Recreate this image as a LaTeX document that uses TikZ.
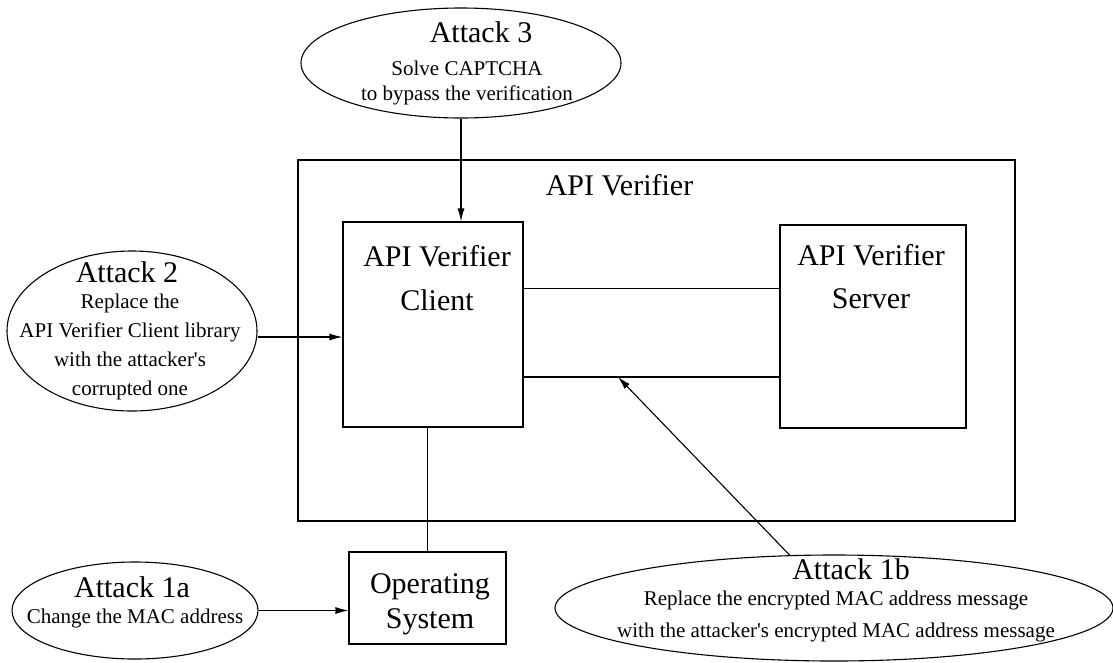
\documentclass[tikz,border=0pt]{standalone}
\usepackage{fontspec}
\setmainfont{Liberation Serif}
\usetikzlibrary{shapes.geometric,arrows.meta,positioning,calc}
\tikzset{
	box/.style={rectangle,draw,inner sep=0pt},
	attack/.style={ellipse,draw,inner sep=0pt},
	bigtext/.style={font=\fontsize{30}{36}\selectfont,inner sep=0pt,anchor=base},
	smalltext/.style={font=\fontsize{21}{29}\selectfont,inner sep=0pt,align=center,anchor=base}
}

\begin{document}
\begin{tikzpicture}[x=1pt,y=-1pt,line width=1.1pt,>={Latex[length=13pt,width=7pt]}]
\useasboundingbox (0,0) rectangle (1113,662);
% boxes
\node[box,minimum width=717pt,minimum height=361pt] (verifier) at (656.5,340.5) {};
\node[box,minimum width=180pt,minimum height=205pt] (client) at (433,324.5) {};
\node[box,minimum width=186pt,minimum height=203pt] (server) at (873,326.5) {};
\node[box,minimum width=157pt,minimum height=92pt] (os) at (427.5,598) {};
\node[bigtext] (verifierlabel) at (619.5,195) {API Verifier};
% multi-line nodes sit on their last baseline
\node[bigtext,align=center] (clientname) at (437,310) {API Verifier\\[8pt]Client};
\node[bigtext,align=center] (servername) at (871,308) {API Verifier\\[7pt]Server};
\node[bigtext,align=center] (osname) at (430,628) {Operating\\[-1pt]System};
% attacks
\node[attack,minimum width=320pt,minimum height=110pt] (atk3) at (461,63) {};
\node[attack,minimum width=250pt,minimum height=160pt] (atk2) at (132,331) {};
\node[attack,minimum width=246pt,minimum height=97pt] (atk1a) at (135,610.5) {};
\node[attack,minimum width=558pt,minimum height=106pt] (atk1b) at (834,608) {};
\node[bigtext] (atk3title) at (481,42) {Attack 3};
\node[smalltext,font=\fontsize{21}{25}\selectfont] (atk3text) at (467,100) {Solve CAPTCHA\\to bypass the verification};
\node[bigtext] (atk2title) at (127,282) {Attack 2};
\node[smalltext] (atk2text) at (130,395) {Replace the\\API Verifier Client library\\with the attacker\textquotesingle s\\corrupted one};
\node[bigtext] (atk1atitle) at (132,597) {Attack 1a};
\node[smalltext] (atk1atext) at (135,623) {Change the MAC address};
\node[bigtext] (atk1btitle) at (851,579) {Attack 1b};
\node[smalltext,font=\fontsize{21}{32}\selectfont] (atk1btext) at (836,637) {Replace the encrypted MAC address message\\with the attacker\textquotesingle s encrypted MAC address message};
%
\coordinate (hit) at (618,377);
\draw[->] (atk3.south) -- (atk3.south |- client.north);
\draw[->] ([yshift=-6pt]atk2.east) -- ([yshift=-6pt]atk2.east -| client.west);
\draw[->] (atk1a.east) -- (atk1a.east -| os.west);
\draw (os.north |- client.south) -- (os.north);
\draw ([yshift=36pt]client.east) -- ([yshift=36pt]client.east -| server.west);
\draw ([yshift=-52.5pt]client.east) -- ([yshift=-52.5pt]client.east -| server.west);
\draw[->] (atk1b.130) -- (hit);
\end{tikzpicture}
\end{document}
